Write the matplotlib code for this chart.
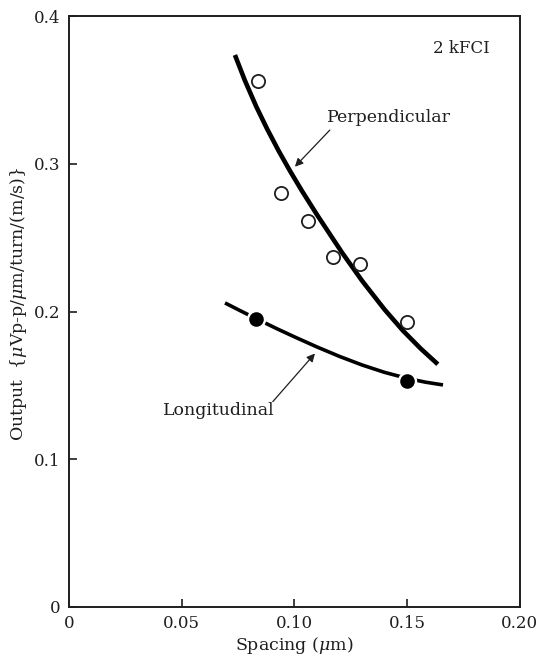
import matplotlib
matplotlib.use("Agg")
import matplotlib.pyplot as plt

# ---- data ----
perp_x = [0.084, 0.094, 0.106, 0.117, 0.129, 0.150]
perp_y = [0.356, 0.280, 0.261, 0.237, 0.232, 0.193]

long_x = [0.083, 0.150]
long_y = [0.195, 0.153]

# hand-drawn trend curves
perp_curve_x = [0.0736, 0.0780, 0.0830, 0.0878, 0.0930, 0.0980, 0.1033, 0.1100,
                0.1211, 0.1300, 0.1400, 0.1481, 0.1560, 0.1636]
perp_curve_y = [0.3736, 0.3564, 0.3389, 0.3238, 0.3087, 0.2952, 0.2817, 0.2655,
                0.2399, 0.2208, 0.2013, 0.1871, 0.1749, 0.1643]

long_curve_x = [0.0692, 0.0760, 0.0834, 0.0920, 0.1002, 0.1100, 0.1200, 0.1300,
                0.1400, 0.1499, 0.1580, 0.1659]
long_curve_y = [0.2058, 0.2005, 0.1949, 0.1885, 0.1827, 0.1760, 0.1696, 0.1638,
                0.1588, 0.1548, 0.1522, 0.1503]

x_ticks = [0, 0.05, 0.10, 0.15, 0.20]
x_tick_labels = ["0", "0.05", "0.10", "0.15", "0.20"]
y_ticks = [0, 0.1, 0.2, 0.3, 0.4]
y_tick_labels = ["0", "0.1", "0.2", "0.3", "0.4"]

ink = "#1e1e1e"
plt.rcParams["font.family"] = ["DejaVu Serif"]
plt.rcParams["mathtext.fontset"] = "dejavuserif"

fig = plt.figure(figsize=(5.38, 6.56), dpi=100)
ax = fig.add_axes([0.1283, 0.0747, 0.838, 0.9009])

ax.set_xlim(0, 0.20)
ax.set_ylim(0, 0.40)

# curves
ax.plot(perp_curve_x, perp_curve_y, color="black", lw=3.3, solid_capstyle="butt",
        solid_joinstyle="round", zorder=2)
ax.plot(long_curve_x, long_curve_y, color="black", lw=2.6, solid_capstyle="butt",
        solid_joinstyle="round", zorder=2)

# markers
ax.plot(perp_x, perp_y, linestyle="none", marker="o", markersize=9.5,
        markerfacecolor="white", markeredgecolor=ink, markeredgewidth=1.3, zorder=3)
ax.plot(long_x, long_y, linestyle="none", marker="o", markersize=14,
        markerfacecolor="white", markeredgecolor="white", markeredgewidth=0, zorder=3)
ax.plot(long_x, long_y, linestyle="none", marker="o", markersize=10.5,
        markerfacecolor="black", markeredgecolor="black", markeredgewidth=0, zorder=4)

# annotations
arrow_kw = dict(arrowstyle="-|>", color=ink, lw=0.9, mutation_scale=12,
                shrinkA=0, shrinkB=0)
ax.text(0.174, 0.378, "2 kFCI", fontsize=12, color=ink, ha="center", va="center")
ax.text(0.1144, 0.331, "Perpendicular", fontsize=12.5, color=ink, ha="left", va="center")
ax.annotate("", xy=(0.1002, 0.298), xytext=(0.1157, 0.3228), arrowprops=arrow_kw)
ax.text(0.0417, 0.1333, "Longitudinal", fontsize=12.5, color=ink, ha="left", va="center")
ax.annotate("", xy=(0.1091, 0.1716), xytext=(0.0904, 0.139), arrowprops=arrow_kw)

# axes styling
for side in ["left", "bottom", "right", "top"]:
    ax.spines[side].set_linewidth(1.4)
    ax.spines[side].set_color(ink)

ax.set_xticks(x_ticks)
ax.set_xticklabels(x_tick_labels)
ax.set_yticks(y_ticks)
ax.set_yticklabels(y_tick_labels)
ax.tick_params(direction="in", length=6, width=1.2, colors=ink, labelsize=12,
               top=False, right=False)
ax.tick_params(axis="x", pad=6)
ax.tick_params(axis="y", pad=6)

ax.set_xlabel(r"Spacing ($\mu$m)", fontsize=12.5, color=ink, labelpad=2)
ax.set_ylabel(r"Output  {$\mu$Vp-p/$\mu$m/turn/(m/s)}", fontsize=12.5, color=ink,
              va="center")
ax.yaxis.set_label_coords(-0.112, 0.513)

fig.savefig("out.png", dpi=100, facecolor="white")
